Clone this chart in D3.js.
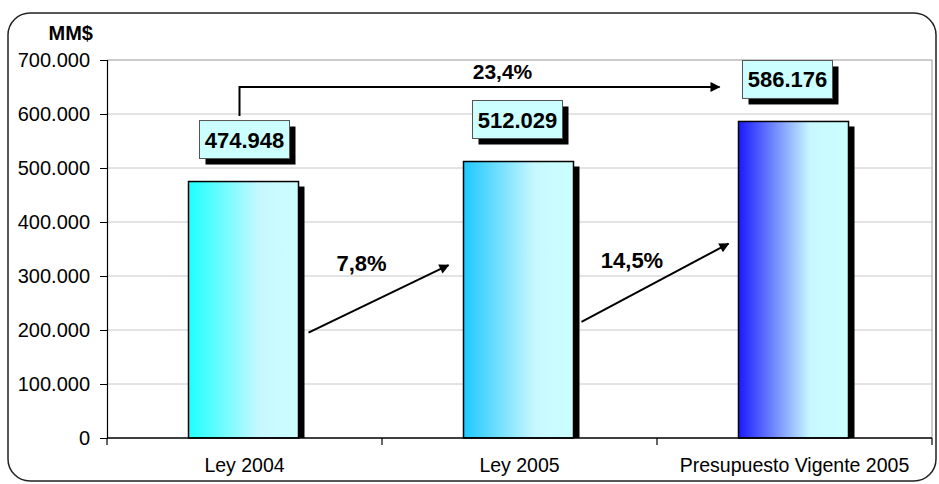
<!DOCTYPE html>
<html><head><meta charset="utf-8">
<script src="https://cdn.jsdelivr.net/npm/d3@7"></script>
<style>
body{margin:0;background:#fff;}
svg{display:block;font-family:Arial,"Liberation Sans",sans-serif;}
</style></head>
<body><svg id="c" width="939" height="484"></svg>
<script>
const categories = ["Ley 2004", "Ley 2005", "Presupuesto Vigente 2005"];
const values = [474948, 512029, 586176];
const valueLabels = ["474.948", "512.029", "586.176"];
const yTicks = [0, 100000, 200000, 300000, 400000, 500000, 600000, 700000];
const yTickLabels = ["0", "100.000", "200.000", "300.000", "400.000", "500.000", "600.000", "700.000"];
const barColors = ["#1effff", "#1ec8ff", "#1a1aff"];
const growthLabels = ["7,8%", "14,5%"];
const growthFrom = [195000, 215000];
const growthTo = [320000, 360000];
const growthLabelAt = [310000, 315000];
const totalLabel = "23,4%";
const totalFromTo = [600000, 650000];

const svg = d3.select("#c");
const m = {l:107, r:932, t:60, b:438};
const x = d3.scaleBand().domain(categories).range([m.l, m.r]).paddingInner(0).paddingOuter(0);
const y = d3.scaleLinear().domain([0, 700000]).range([m.b, m.t]);
const bw = x.bandwidth()*0.4;
const FF = "Arial, 'Liberation Sans', sans-serif";

// outer rounded frame
svg.append("rect").attr("x",8).attr("y",13).attr("width",928).attr("height",468)
  .attr("rx",22).attr("ry",22).attr("fill","none").attr("stroke","#222").attr("stroke-width",1.5);

const defs = svg.append("defs");
barColors.forEach((c,i)=>{
  const g = defs.append("linearGradient").attr("id","g"+i).attr("x1","0").attr("x2","1").attr("y1","0").attr("y2","0");
  g.append("stop").attr("offset","0").attr("stop-color",c);
  g.append("stop").attr("offset","0.65").attr("stop-color","#c8f8ff");
  g.append("stop").attr("offset","1").attr("stop-color","#ccffff");
});
defs.append("marker").attr("id","ah").attr("viewBox","0 0 10 10").attr("refX",9).attr("refY",5)
  .attr("markerWidth",6).attr("markerHeight",5).attr("markerUnits","strokeWidth").attr("orient","auto")
  .append("path").attr("d","M0,0L10,5L0,10Z").attr("fill","#000");

// gridlines
svg.append("g").selectAll("line").data(yTicks.slice(1)).join("line")
  .attr("x1",m.l).attr("x2",m.r).attr("y1",d=>y(d)).attr("y2",d=>y(d))
  .attr("stroke",(d,i)=>i===yTicks.length-2?"#999":"#c8c8c8").attr("stroke-width",1);
svg.append("line").attr("x1",m.r).attr("x2",m.r).attr("y1",m.t).attr("y2",m.b).attr("stroke","#999");

// y axis
const yAxis = d3.axisLeft(y).tickValues(yTicks).tickFormat((d,i)=>yTickLabels[i]).tickSize(7).tickPadding(10);
const ya = svg.append("g").attr("transform",`translate(${m.l},0)`).call(yAxis);
ya.select(".domain").attr("stroke","#000").attr("stroke-width",1.2);
ya.selectAll("text").attr("font-size",20).attr("fill","#000").attr("font-family",FF);

// x axis
const xAxis = d3.axisBottom(x).tickSize(0).tickPadding(20);
const xa = svg.append("g").attr("transform",`translate(0,${m.b})`).call(xAxis);
xa.select(".domain").remove();
xa.selectAll("text").attr("font-size",19.5).attr("fill","#000").attr("font-family",FF);
svg.append("g").selectAll("line").data([0,1,2,3]).join("line")
  .attr("x1",i=>m.l+i*x.step()).attr("x2",i=>m.l+i*x.step()).attr("y1",m.b).attr("y2",m.b+7)
  .attr("stroke","#000").attr("stroke-width",1.2);

// bars
const bars = svg.append("g");
categories.forEach((c,i)=>{
  const bx = x(c)+ (x.bandwidth()-bw)/2 - 1;
  const by = y(values[i]);
  bars.append("rect").attr("x",bx+6).attr("y",by+5).attr("width",bw).attr("height",m.b-by-5).attr("fill","#000");
  bars.append("rect").attr("x",bx).attr("y",by).attr("width",bw).attr("height",m.b-by)
    .attr("fill",`url(#g${i})`).attr("stroke","#000").attr("stroke-width",1.5);
});
svg.append("line").attr("x1",m.l).attr("x2",m.r).attr("y1",m.b).attr("y2",m.b).attr("stroke","#000").attr("stroke-width",1.5);

// value label boxes
const lb = svg.append("g");
const boxW = 90, boxH = 38;
categories.forEach((c,i)=>{
  const cx = x(c)+x.bandwidth()/2 - (i===2?7:(i===1?2:0));
  const bottom = y(values[i]) - 23;
  lb.append("rect").attr("x",cx-boxW/2+6).attr("y",bottom-boxH+6).attr("width",boxW).attr("height",boxH).attr("fill","#000");
  lb.append("rect").attr("x",cx-boxW/2).attr("y",bottom-boxH).attr("width",boxW).attr("height",boxH)
    .attr("fill","#ccffff").attr("stroke","#555").attr("stroke-width",1);
  lb.append("text").attr("x",cx).attr("y",bottom-boxH/2+8).attr("text-anchor","middle")
    .attr("font-size",22).attr("font-weight","bold").text(valueLabels[i]);
});

// growth arrows between consecutive bars
const ar = svg.append("g");
const startGap = [9, 7], endGap = [16, 11], labelShift = [-17, -23];
growthLabels.forEach((lab,i)=>{
  const x0 = x(categories[i]) + x.bandwidth()/2 + bw/2 + startGap[i];
  const x1 = x(categories[i+1]) + x.bandwidth()/2 - bw/2 - endGap[i];
  ar.append("line").attr("x1",x0).attr("y1",y(growthFrom[i])).attr("x2",x1).attr("y2",y(growthTo[i]))
    .attr("stroke","#000").attr("stroke-width",2).attr("marker-end","url(#ah)");
  ar.append("text").attr("x",(x0+x1)/2 + labelShift[i]).attr("y",y(growthLabelAt[i]))
    .attr("text-anchor","middle").attr("font-size",22).attr("font-weight","bold").text(lab);
});

// total bracket arrow
const bx0 = x(categories[0]) + x.bandwidth()/2 - 5;
const bx1 = x(categories[2]) + x.bandwidth()/2 - 75;
ar.append("path").attr("d",`M${bx0},${y(totalFromTo[0])+2}V${y(totalFromTo[1])}H${bx1}`)
  .attr("fill","none").attr("stroke","#000").attr("stroke-width",2).attr("marker-end","url(#ah)");
ar.append("text").attr("x",(bx0+bx1)/2 + 23).attr("y",y(totalFromTo[1]) - 8).attr("text-anchor","middle")
  .attr("font-size",21).attr("font-weight","bold").text(totalLabel);

// unit label
svg.append("text").attr("x",93).attr("y",40).attr("text-anchor","end").attr("font-size",20).attr("font-weight","bold").text("MM$");
</script></body></html>
